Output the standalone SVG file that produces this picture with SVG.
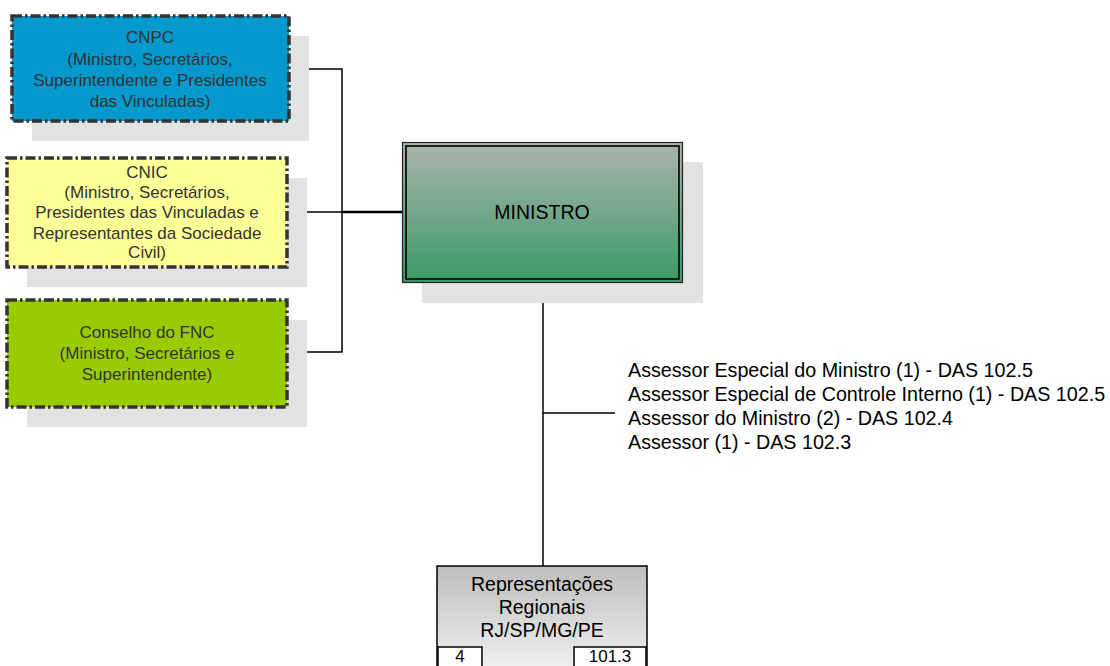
<svg xmlns="http://www.w3.org/2000/svg" width="1110" height="666" viewBox="0 0 1110 666">
<defs>
<linearGradient id="gMin" x1="0" y1="0" x2="0" y2="1">
<stop offset="0" stop-color="#abb3ad"/>
<stop offset="1" stop-color="#3a9a66"/>
</linearGradient>
<linearGradient id="gRep" x1="0" y1="0" x2="0" y2="1">
<stop offset="0" stop-color="#bdbdbd"/>
<stop offset="1" stop-color="#f4f4f4"/>
</linearGradient>
<style>
.shadow{fill:#e2e2e2}
.council{stroke:#333333;stroke-width:3.5;stroke-dasharray:10 3 2.5 3}
.ct{font-family:"Liberation Sans",Arial,sans-serif;font-size:17px;fill:#333333;text-anchor:middle}
.bt{font-family:"Liberation Sans",Arial,sans-serif;font-size:19.5px;fill:#000;text-anchor:middle}
.nt{font-family:"Liberation Sans",Arial,sans-serif;font-size:17px;fill:#000;text-anchor:middle}
.at{font-family:"Liberation Sans",Arial,sans-serif;font-size:19.7px;fill:#000}
.conn{fill:none;stroke:#000;stroke-width:1.5}
</style>
</defs>
<rect width="1110" height="666" fill="#fff"/>

<g id="connectors">
<polyline class="conn" points="289,69 342,69 342,352 287,352"/>
<line class="conn" x1="287" y1="212" x2="342" y2="212"/>
<line x1="342" y1="212" x2="402" y2="212" stroke="#000" stroke-width="2.5"/>
<line class="conn" x1="543" y1="283" x2="543" y2="566"/>
<line class="conn" x1="543" y1="413" x2="615" y2="413"/>
</g>

<g id="cnpc">
<rect class="shadow" x="32" y="36" width="277" height="105"/>
<rect class="council" x="12" y="16" width="277" height="105" fill="#0399cc"/>
<text class="ct" x="150" y="43">CNPC</text>
<text class="ct" x="150" y="65">(Ministro, Secretários,</text>
<text class="ct" x="150" y="86">Superintendente e Presidentes</text>
<text class="ct" x="150" y="107">das Vinculadas)</text>
</g>

<g id="cnic">
<rect class="shadow" x="27" y="178" width="280" height="109"/>
<rect class="council" x="7" y="158" width="280" height="109" fill="#ffff99"/>
<text class="ct" x="147" y="178">CNIC</text>
<text class="ct" x="147" y="198">(Ministro, Secretários,</text>
<text class="ct" x="147" y="218">Presidentes das Vinculadas e</text>
<text class="ct" x="147" y="239">Representantes da Sociedade</text>
<text class="ct" x="147" y="258">Civil)</text>
</g>

<g id="conselho-fnc">
<rect class="shadow" x="27" y="320" width="280" height="107"/>
<rect class="council" x="7" y="300" width="280" height="107" fill="#99cc00"/>
<text class="ct" x="147" y="338">Conselho do FNC</text>
<text class="ct" x="147" y="359">(Ministro, Secretários e</text>
<text class="ct" x="147" y="380">Superintendente)</text>
</g>

<g id="ministro">
<rect class="shadow" x="422" y="162" width="281" height="141"/>
<rect x="402.5" y="142.5" width="280" height="140" fill="url(#gMin)" stroke="#222" stroke-width="1.2"/>
<rect x="406" y="146" width="273" height="133" fill="none" stroke="#000" stroke-width="1.6"/>
<text class="bt" x="542" y="219">MINISTRO</text>
</g>

<g id="assessores">
<text class="at" x="628" y="377">Assessor Especial do Ministro (1) - DAS 102.5</text>
<text class="at" x="628" y="401">Assessor Especial de Controle Interno (1) - DAS 102.5</text>
<text class="at" x="628" y="425">Assessor do Ministro (2) - DAS 102.4</text>
<text class="at" x="628" y="449">Assessor (1) - DAS 102.3</text>
</g>

<g id="representacoes">
<rect x="437" y="566" width="210" height="110" fill="url(#gRep)" stroke="#000" stroke-width="1.5"/>
<text class="bt" x="542" y="591">Representações</text>
<text class="bt" x="542" y="614">Regionais</text>
<text class="bt" x="542" y="637">RJ/SP/MG/PE</text>
<rect x="438" y="647" width="44" height="30" fill="#fff" stroke="#000" stroke-width="1.5"/>
<rect x="574" y="647" width="72" height="30" fill="#fff" stroke="#000" stroke-width="1.5"/>
<text class="nt" x="460" y="662">4</text>
<text class="nt" x="610" y="662">101.3</text>
</g>
</svg>
